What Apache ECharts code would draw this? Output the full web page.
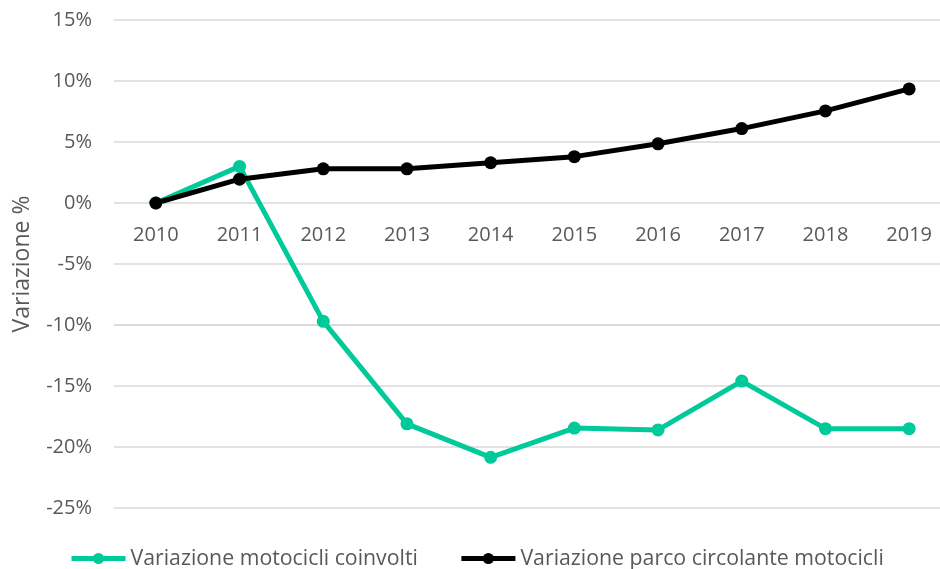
<!DOCTYPE html>
<html>
<head>
<meta charset="utf-8">
<script src="https://cdn.jsdelivr.net/npm/echarts@6/dist/echarts.min.js"></script>
<style>
  html, body { margin: 0; padding: 0; background: #fff; }
  #chart { width: 940px; height: 569px; }
</style>
</head>
<body>
<div id="chart"></div>
<script>
var years = ["2010", "2011", "2012", "2013", "2014", "2015", "2016", "2017", "2018", "2019"];
// variazione % rispetto al 2010
var coinvolti = [0, 3.0, -9.7, -18.1, -20.85, -18.45, -18.6, -14.6, -18.5, -18.5];
var parco = [0, 1.95, 2.8, 2.8, 3.3, 3.8, 4.85, 6.1, 7.55, 9.35];

var gray = "#595959";
var font = "Open Sans";

var myChart = echarts.init(document.getElementById("chart"));
var option = {
  animation: false,
  textStyle: { fontFamily: font },
  grid: {
    left: 114,
    top: 20,
    width: 837,
    height: 488,
    outerBoundsMode: "none"
  },
  legend: {
    bottom: -5,
    left: 64,
    itemWidth: 54,
    itemHeight: 14,
    itemGap: 41,
    textStyle: { color: gray, fontSize: 21.3, fontFamily: font },
    data: [
      { name: "Variazione motocicli coinvolti", lineStyle: { width: 5 } },
      { name: "Variazione parco circolante motocicli", lineStyle: { width: 5 } }
    ]
  },
  xAxis: {
    type: "category",
    data: years,
    boundaryGap: true,
    axisLine: { show: true, onZero: true, lineStyle: { color: "#d9d9d9", width: 1.5 } },
    axisTick: { show: false },
    axisLabel: { color: gray, fontSize: 20, margin: 22 },
    splitLine: { show: false }
  },
  yAxis: {
    type: "value",
    min: -25,
    max: 15,
    interval: 5,
    name: "Variazione %",
    nameLocation: "middle",
    nameGap: 80,
    nameTextStyle: { color: gray, fontSize: 23, fontFamily: font },
    axisLine: { show: false },
    axisTick: { show: false },
    axisLabel: {
      color: gray,
      fontSize: 20,
      margin: 22,
      formatter: function (v) { return v + "%"; }
    },
    splitLine: { lineStyle: { color: "#d9d9d9", width: 1.5 } }
  },
  series: [
    {
      name: "Variazione motocicli coinvolti",
      type: "line",
      data: coinvolti,
      symbol: "circle",
      symbolSize: 13,
      lineStyle: { color: "#00C99A", width: 5 },
      itemStyle: { color: "#00C99A" }
    },
    {
      name: "Variazione parco circolante motocicli",
      type: "line",
      data: parco,
      symbol: "circle",
      symbolSize: 13,
      lineStyle: { color: "#000", width: 5 },
      itemStyle: { color: "#000" }
    }
  ]
};
myChart.setOption(option);

// put the category axis on the 0% line, as in the original
var zeroY = myChart.convertToPixel({ yAxisIndex: 0 }, 0);
var bottomY = myChart.convertToPixel({ yAxisIndex: 0 }, -25);
myChart.setOption({ xAxis: { offset: zeroY - bottomY } });
</script>
</body>
</html>
